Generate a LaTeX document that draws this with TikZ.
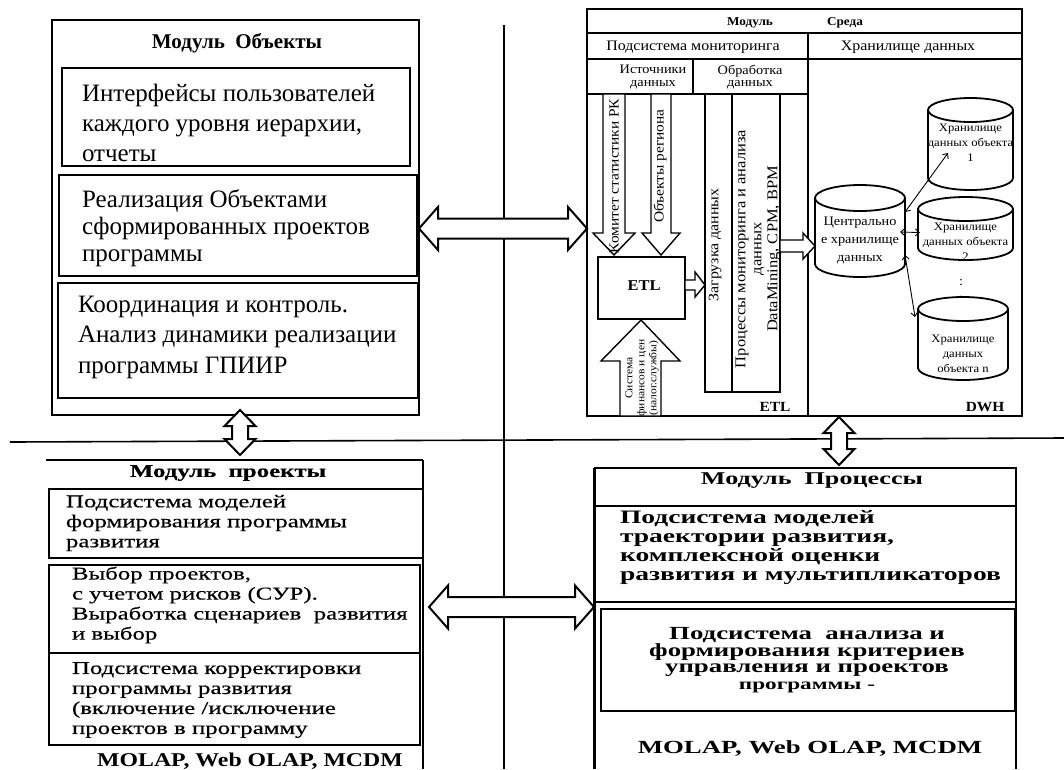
\documentclass[tikz,border=0pt]{standalone}
\usepackage{fontspec}
\setmainfont{Liberation Serif}
\newfontfamily\fwa[FakeStretch=1.38,FakeBold=0.4]{Liberation Serif}
\newfontfamily\fwb[FakeStretch=1.45]{Liberation Serif}
\newfontfamily\fwc[FakeStretch=1.1]{Liberation Serif}
\newfontfamily\fwd[FakeStretch=1.22]{Liberation Serif}
\newcommand\fsz[2]{\fontsize{#1}{#2}\selectfont}
\usetikzlibrary{fit,calc,arrows.meta}
\tikzset{
  box/.style={draw, inner sep=0pt, outer sep=0pt, line width=#1},
  box/.default=2.6pt,
  area/.style={inner sep=0pt, outer sep=0pt},
  txt/.style={inner sep=0pt, outer sep=0pt, align=left, anchor=west},
  ctxt/.style={inner sep=0pt, outer sep=0pt, align=center},
  rtxt/.style={inner sep=0pt, outer sep=0pt, align=center, rotate=90},
  fatarrow/.style={draw, fill=white, line width=2pt, line join=miter, miter limit=10},
  etlarrow/.style={draw, fill=white, line width=1.4pt, line join=miter, miter limit=10},
  tline/.style={line width=1.3pt},
  sepline/.style={line width=1.6pt},
  dbl/.style={{Straight Barb[length=4pt,width=7pt]}-{Straight Barb[length=4pt,width=7pt]}, line width=0.9pt},
  cylline/.style={draw, fill=white, line width=1.8pt}
}
\newcommand\hdarrow[5]{%
  \draw[fatarrow] let \p1=(#1), \p2=(#2) in
  (\x1,\y1) -- (\x1+#5,\y1+#4) -- (\x1+#5,\y1+#3) -- (\x2-#5,\y1+#3) -- (\x2-#5,\y1+#4) -- (\x2,\y1)
  -- (\x2-#5,\y1-#4) -- (\x2-#5,\y1-#3) -- (\x1+#5,\y1-#3) -- (\x1+#5,\y1-#4) -- cycle;}
\newcommand\vdarrow[5]{%
  \draw[fatarrow] let \p1=(#1), \p2=(#2) in
  (\x1,\y1) -- (\x1+#4,\y1-#5) -- (\x1+#3,\y1-#5) -- (\x1+#3,\y2+#5) -- (\x1+#4,\y2+#5) -- (\x1,\y2)
  -- (\x1-#4,\y2+#5) -- (\x1-#3,\y2+#5) -- (\x1-#3,\y1-#5) -- (\x1-#4,\y1-#5) -- cycle;}
% name, x1, x2, top, bottom, ry, text shift, text
\newcommand\dbcyl[8]{%
  \node[area, fit={(#2,#4) (#3,#5)}] (#1) {};
  \draw[cylline] let \p1=(#1.north west), \p2=(#1.south east), \n1={(\x2-\x1)/2} in
    (\x1,\y1-#6) -- (\x1,\y2+#6) arc[start angle=180, end angle=360, x radius=\n1, y radius=#6] -- (\x2,\y1-#6) -- cycle;
  \draw[cylline] let \p1=(#1.north west), \p2=(#1.south east), \n1={(\x2-\x1)/2} in
    (\x1+\n1,\y1-#6) ellipse [x radius=\n1, y radius=#6];
  \node[ctxt, font=\fwc\fsz{11.5}{15}] (#1t) at ($(#1.center)+(0,#7)$) {#8};}
\begin{document}
\begin{tikzpicture}[x=1pt,y=-1pt]
\useasboundingbox (0,0) rectangle (1064,769);
\fill[white] (0,0) rectangle (1064,769);

% separating lines
\coordinate (vtop) at (504,25);
\coordinate (vbot) at (504,769);
\coordinate (hleft) at (10,442);
\coordinate (hright) at (1064,438);
\draw[sepline] (vtop) -- (vbot);
\draw[sepline] (hleft) -- (hright);

% ===== Module Objects =====
\node[box=2.6pt, fit={(52,20) (419,415)}] (mobj) {};
\node[ctxt, font=\bfseries\fsz{21}{21}] (mobjt) at (237,43) {Модуль\ \ Объекты};
\node[box=2.8pt, fit={(62,68) (410,166)}] (ob1) {};
\node[box=2.8pt, fit={(59,175) (417,276)}] (ob2) {};
\node[box=2.8pt, fit={(58,283) (418,398)}] (ob3) {};
\node[txt, font=\fsz{25}{30}] (ob1t) at (82,123) {Интерфейсы пользователей\\каждого уровня иерархии,\\отчеты};
\node[txt, font=\fsz{25}{27}] (ob2t) at (82,228) {Реализация Объектами\\сформированных проектов\\программы};
\node[txt, font=\fsz{25}{30.5}] (ob3t) at (78,337) {Координация и контроль.\\Анализ динамики реализации\\программы ГПИИР};

% ===== Module ETL / DWH =====
\node[box=2pt, fit={(587,9) (1022,416)}] (etlmod) {};
\draw[tline] (587,33) -- (1022,33);
\draw[tline] (587,59) -- (1022,59);
\draw[tline] (587,94) -- (808,94);
\draw[tline] (808,33) -- (808,416);
\draw[tline] (693,59) -- (693,94);
\node[ctxt, font=\fwc\bfseries\fsz{12}{12}] (hmod) at (750,23) {Модуль};
\node[ctxt, font=\fwc\bfseries\fsz{12}{12}] (hsreda) at (845,23) {Среда};
\node[ctxt, font=\fwc\fsz{14.5}{14}] (hmon) at (693,47) {Подсистема мониторинга};
\node[ctxt, font=\fwc\fsz{14.5}{14}] (hdwh) at (908,47) {Хранилище данных};
\node[ctxt, font=\fwc\fsz{13}{12.5}] (hsrc) at (653,77) {Источники\\данных};
\node[ctxt, font=\fwc\fsz{13}{12.5}] (hproc) at (750,77) {Обработка\\данных};

% columns
\node[box=1.4pt, fit={(705,94) (732,392)}] (zag) {};
\node[box=1.4pt, fit={(732,94) (780,392)}] (proc) {};
\draw[line width=2.6pt] (proc.north west) -- (proc.south west);
\node[rtxt, font=\fwc\fsz{14.5}{14}] (zagt) at (715,245) {Загрузка данных};
\node[rtxt, font=\fwc\fsz{15}{16}] (proct) at (758,249) {Процессы мониторинга и анализа\\данных\\DataMining, CPM, BPM};

% ETL box
\node[box=1.6pt, fit={(598,257) (685,319)}] (etl) {};
\node[ctxt, font=\fwc\bfseries\fsz{15}{15}] (etlt) at (644,286) {ETL};

% source arrows
\draw[etlarrow] (603,94) -- (625,94) -- (625,233) -- (635,233) -- (614,255) -- (593,233) -- (603,233) -- cycle;
\draw[etlarrow] (651,94) -- (671,94) -- (671,233) -- (680,233) -- (661,255) -- (642,233) -- (651,233) -- cycle;
\draw[etlarrow] (620,416) -- (620,361) -- (601,361) -- (641,320) -- (680,361) -- (661,361) -- (661,416) -- cycle;
\node[rtxt, font=\fwc\fsz{14}{14}] (komt) at (614,176) {Комитет статистики РК};
\node[rtxt, font=\fwc\fsz{14}{14}] (obrt) at (660,166) {Объекты региона};
\node[rtxt, font=\fwc\fsz{10.5}{12}] (syst) at (642,378) {Система\\финансов и цен\\(налог.службы)};

% ETL -> load, processes -> central
\draw[etlarrow] (etl.east |- 0,280) -- (695,280) -- (695,272) -- (zag.west |- 0,285) -- (695,297) -- (695,290) -- (etl.east |- 0,290) -- cycle;
\draw[etlarrow] (proc.east |- 0,240) -- (803,240) -- (803,233) -- (815,246) -- (803,259) -- (803,252) -- (proc.east |- 0,252) -- cycle;

% DWH cylinders
\dbcyl{cy1}{928}{1013}{98}{190}{12pt}{-1}{Хранилище\\данных объекта\\1}
\dbcyl{cy2}{918}{1013}{197}{260}{12pt}{13}{Хранилище\\данных объекта\\2}
\dbcyl{cyn}{918}{1008}{297}{380}{12pt}{15}{Хранилище\\данных\\объекта n}
\node[area, fit={(815,185) (905,277)}] (cy0) {};
\draw[cylline] (815,198) -- (815,264) arc[start angle=180, end angle=360, x radius=45pt, y radius=13pt] -- (905,198) -- cycle;
\draw[cylline] (860,198) ellipse [x radius=45pt, y radius=13pt];
\node[ctxt, font=\fwc\fsz{13}{18}] (cy0t) at (860,240) {Центрально\\е хранилище\\данных};
\node[ctxt, font=\fwc\fsz{13}{13}] (dots1) at (961,283) {:};
\node[ctxt, font=\fwc\fsz{13}{13}] (dots2) at (961,297) {.};

\draw[dbl] ($(cy0.east)+(0,-19)$) -- ($(cy1.south west)+(20,-37)$);
\draw[dbl] ($(cy0.east)+(-5,1)$) -- ($(cy2.west)+(2,4)$);
\draw[dbl] ($(cy0.east)+(0,24)$) -- ($(cyn.north west)+(-3,20)$);

\node[ctxt, font=\fwc\bfseries\fsz{14}{14}] (etllab) at (775,407) {ETL};
\node[ctxt, font=\fwc\bfseries\fsz{14}{14}] (dwhlab) at (985,407) {DWH};

% ===== Module Projects =====
\node[area, fit={(46,460) (423,769)}] (mproj) {};
\draw[line width=2.2pt] (mproj.north west) -- (mproj.north east);
\draw[line width=1.5pt] (mproj.north east) -- (mproj.south east);
\node[ctxt, font=\fwa\bfseries\fsz{18}{18}] (mprojt) at (228,473) {Модуль\ \ проекты};
\node[box=2.3pt, fit={(49,489) (423,558)}] (pr1) {};
\node[box=2.6pt, fit={(49,565) (420,653)}] (pr2) {};
\node[box=2.6pt, fit={(49,653) (420,745)}] (pr3) {};
\node[txt, font=\fwa\fsz{18}{20}] (pr1t) at (66,523) {Подсистема моделей\\формирования программы\\развития};
\node[txt, font=\fwa\fsz{18}{20}] (pr2t) at (72,605) {Выбор проектов,\\с учетом рисков (СУР).\\Выработка сценариев\ \ развития\\и выбор};
\node[txt, font=\fwa\fsz{18}{20}] (pr3t) at (72,700) {Подсистема корректировки\\программы развития\\(включение /исключение\\проектов в программу};
\node[ctxt, font=\fwd\bfseries\fsz{19.5}{19.5}] (prmol) at (250,761) {MOLAP, Web OLAP, MCDM};

% ===== Module Processes =====
\node[area, fit={(594,468) (1016,769)}] (mproc) {};
\draw[line width=1.8pt] (mproc.north west) -- (mproc.north east) -- (mproc.south east);
\draw[line width=3pt] (mproc.north west) -- (mproc.south west);
\draw[line width=1.8pt] (594,506) -- (1016,506);
\draw[line width=1.8pt] (594,602) -- (1016,602);
\node[box=2.6pt, fit={(601,609) (1015,711)}] (ps2) {};
\node[ctxt, font=\fwb\bfseries\fsz{18}{18}] (mproct) at (812,481) {Модуль\ \ Процессы};
\node[txt, font=\fwb\bfseries\fsz{19}{19}] (ps1t) at (620,547) {Подсистема моделей\\траектории развития,\\комплексной оценки\\развития и мультипликаторов};
\node[ctxt, font=\fwb\bfseries\fsz{18.5}{16.5}] (ps2t) at (807,660) {Подсистема\ \ анализа и\\формирования критериев\\управления и проектов\\{\fsz{16}{14}программы -}};
\node[ctxt, font=\fwb\bfseries\fsz{18.5}{18.5}] (psmol) at (810,748) {MOLAP, Web OLAP, MCDM};

% ===== fat double arrows =====
\hdarrow{$(ob2.east)+(2,3)$}{etlmod.west}{10pt}{21.5pt}{19pt}
\hdarrow{$(pr2.east)+(9,-2)$}{mproc.west}{10pt}{21.5pt}{19pt}
\vdarrow{$(mobj.south)+(4.5,-5)$}{$(mproj.north)+(5.5,-5)$}{8pt}{15.5pt}{16pt}
\vdarrow{$(etlmod.south)+(34.5,1)$}{$(mproc.north)+(34,-3)$}{8pt}{15.5pt}{16pt}
\end{tikzpicture}
\end{document}
